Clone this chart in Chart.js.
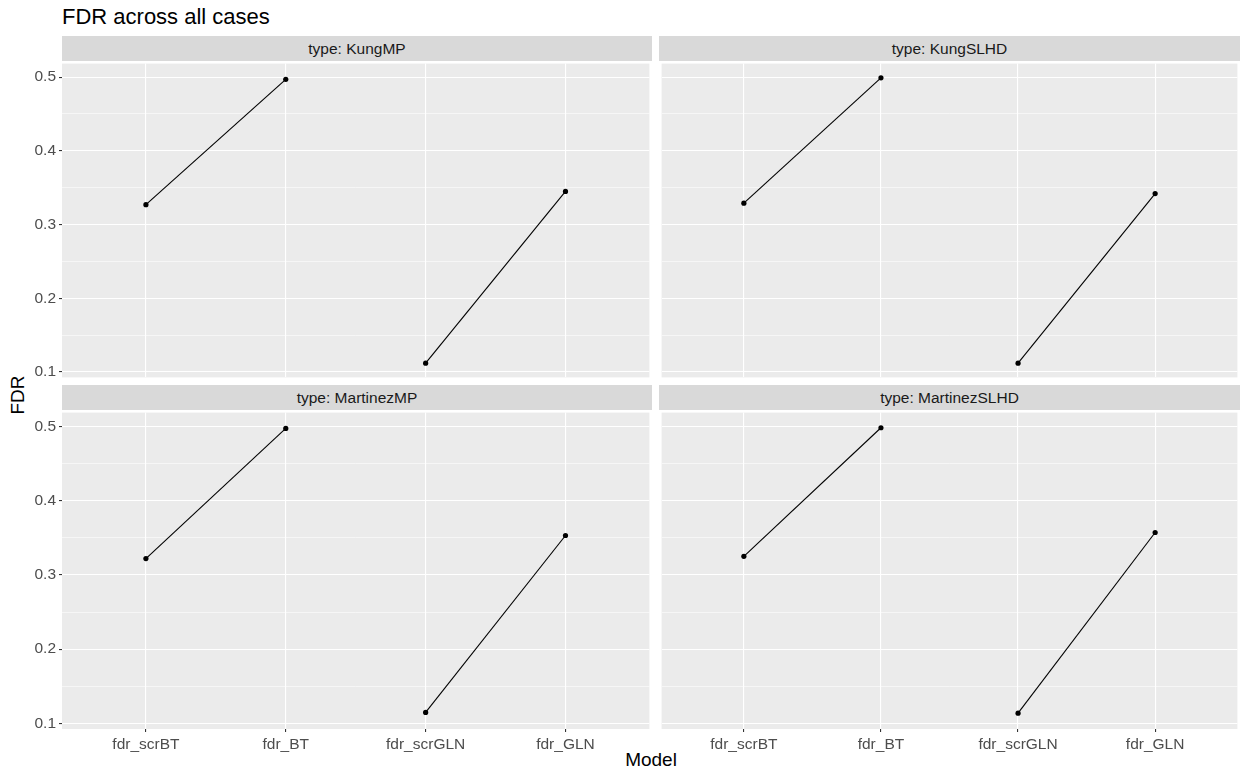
<!DOCTYPE html>
<html>
<head>
<meta charset="utf-8">
<title>FDR across all cases</title>
<script src="https://cdn.jsdelivr.net/npm/chart.js@4.4.1/dist/chart.umd.min.js"></script>
<style>
  body { margin: 0; background: #fff; font-family: "Liberation Sans", Arial, sans-serif; }
  #wrap { position: relative; width: 1244px; height: 771px; overflow: hidden; }
  #wrap canvas { position: absolute; }
  .titulo { position: absolute; left: 62px; top: 6px; font-size: 22px; line-height: 22px; color: #000; }
  .strip { position: absolute; height: 25px; background: #d9d9d9; color: #1a1a1a;
           font-size: 15.5px; line-height: 25px; text-align: center; white-space: nowrap; }
  .eixo-x { position: absolute; left: 62px; width: 1178px; top: 750px; text-align: center;
            font-size: 19px; line-height: 20px; color: #000; }
  .eixo-y { position: absolute; left: 18px; top: 395px; font-size: 19px; line-height: 20px; color: #000;
            transform: translate(-50%, -50%) rotate(-90deg); white-space: nowrap; }
</style>
</head>
<body>
<div id="wrap">
  <div class="titulo">FDR across all cases</div>
  <div class="eixo-x">Model</div>
  <div class="eixo-y">FDR</div>
</div>
<script>
// dados
const modelos = ['fdr_scrBT', 'fdr_BT', 'fdr_scrGLN', 'fdr_GLN'];
const tipos = ['KungMP', 'KungSLHD', 'MartinezMP', 'MartinezSLHD'];
const fdrKungMP = [0.327, 0.497, 0.112, 0.345];
const fdrKungSLHD = [0.329, 0.499, 0.112, 0.342];
const fdrMartinezMP = [0.322, 0.497, 0.115, 0.353];
const fdrMartinezSLHD = [0.325, 0.498, 0.114, 0.357];
const yTicksMaiores = [0.1, 0.2, 0.3, 0.4, 0.5];
const yTicksMenores = [0.15, 0.25, 0.35, 0.45];

const valoresPorTipo = [fdrKungMP, fdrKungSLHD, fdrMartinezMP, fdrMartinezSLHD];

// paineis do facet_wrap (posicao em px)
const paineis = [
  { left: 0,   top: 61,  largura: 652, altura: 319, eixoY: true,  eixoX: false, stripLeft: 62,  stripW: 590, stripTop: 36 },
  { left: 659, top: 61,  largura: 581, altura: 319, eixoY: false, eixoX: false, stripLeft: 659, stripW: 581, stripTop: 36 },
  { left: 0,   top: 410, largura: 652, altura: 351, eixoY: true,  eixoX: true,  stripLeft: 62,  stripW: 590, stripTop: 385 },
  { left: 659, top: 410, largura: 581, altura: 351, eixoY: false, eixoX: true,  stripLeft: 659, stripW: 581, stripTop: 385 }
];

// escala y comum, expandida 5% como no ggplot
const todos = valoresPorTipo.flat();
const yMin0 = Math.min(...todos), yMax0 = Math.max(...todos);
const yExp = (yMax0 - yMin0) * 0.05;
const yMin = yMin0 - yExp, yMax = yMax0 + yExp;

const ehMaior = v => Math.abs(v * 10 - Math.round(v * 10)) < 1e-6;
const fonte = { family: '"Liberation Sans", Arial, sans-serif', size: 15.5 };

// tira o padding automatico que o Chart.js poe por causa dos rotulos
const semPadding = s => { s.paddingTop = 0; s.paddingBottom = 0; s.paddingLeft = 0; s.paddingRight = 0; };

const fundoPainel = {
  id: 'fundoPainel',
  beforeDraw(chart) {
    const { ctx, chartArea: a } = chart;
    ctx.save();
    ctx.fillStyle = '#ebebeb';
    ctx.fillRect(a.left, a.top, a.right - a.left, a.bottom - a.top);
    ctx.restore();
  }
};

const wrap = document.getElementById('wrap');

paineis.forEach((p, i) => {
  const strip = document.createElement('div');
  strip.className = 'strip';
  strip.style.left = p.stripLeft + 'px';
  strip.style.top = p.stripTop + 'px';
  strip.style.width = p.stripW + 'px';
  strip.textContent = 'type: ' + tipos[i];
  wrap.appendChild(strip);

  const canvas = document.createElement('canvas');
  canvas.width = p.largura;
  canvas.height = p.altura;
  canvas.style.left = p.left + 'px';
  canvas.style.top = p.top + 'px';
  wrap.appendChild(canvas);

  const v = valoresPorTipo[i];
  const ponto = (k) => ({ x: k + 1, y: v[k] });

  new Chart(canvas, {
    type: 'line',
    data: {
      datasets: [
        { label: 'BT', data: [ponto(0), ponto(1)] },
        { label: 'GLN', data: [ponto(2), ponto(3)] }
      ]
    },
    plugins: [fundoPainel],
    options: {
      responsive: false,
      animation: false,
      devicePixelRatio: 1,
      layout: { padding: 0 },
      elements: {
        line: { borderColor: '#000', borderWidth: 1.1, tension: 0 },
        point: { radius: 2.6, backgroundColor: '#000', borderWidth: 0, hoverRadius: 2.6 }
      },
      plugins: { legend: { display: false }, tooltip: { enabled: false } },
      scales: {
        x: {
          type: 'linear',
          min: 0.4,
          max: 4.6,
          afterBuildTicks: s => { s.ticks = modelos.map((m, k) => ({ value: k + 1 })); },
          afterFit: s => { s.height = p.eixoX ? 32 : 0; semPadding(s); },
          border: { display: false },
          grid: { color: '#fff', lineWidth: 1.1, drawTicks: p.eixoX, tickLength: 3, tickColor: '#333' },
          ticks: {
            display: p.eixoX, color: '#4d4d4d', font: fonte, padding: 3,
            maxRotation: 0, autoSkip: false,
            callback: val => modelos[Math.round(val) - 1]
          }
        },
        y: {
          type: 'linear',
          min: yMin,
          max: yMax,
          afterBuildTicks: s => {
            s.ticks = [...yTicksMaiores, ...yTicksMenores].sort((a, b) => a - b).map(t => ({ value: t }));
          },
          afterFit: s => { s.width = p.eixoY ? 62 : 0; semPadding(s); },
          border: { display: false },
          grid: {
            color: '#fff',
            lineWidth: ctx => (ctx.tick && ehMaior(ctx.tick.value)) ? 1.1 : 0.55,
            drawTicks: p.eixoY,
            tickLength: 3,
            tickColor: ctx => (ctx.tick && ehMaior(ctx.tick.value)) ? '#333' : 'rgba(0,0,0,0)'
          },
          ticks: {
            display: p.eixoY, color: '#4d4d4d', font: fonte, padding: 3,
            callback: val => ehMaior(val) ? val.toFixed(1) : ''
          }
        }
      }
    }
  });
});
</script>
</body>
</html>
